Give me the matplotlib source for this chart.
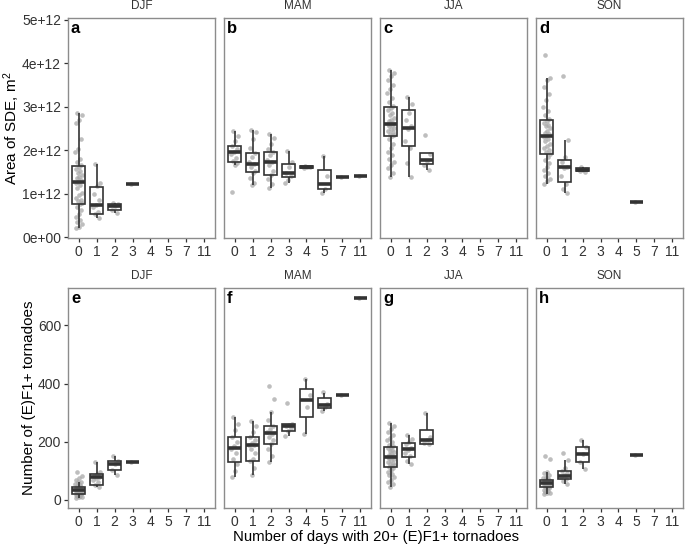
import numpy as np
import matplotlib
matplotlib.use('Agg')
import matplotlib.pyplot as plt

plt.rcParams['font.family'] = ['Liberation Sans', 'DejaVu Sans']
plt.rcParams['mathtext.fontset'] = 'custom'
plt.rcParams['mathtext.rm'] = 'Liberation Sans'
plt.rcParams['mathtext.it'] = 'Liberation Sans'

categories = ['0', '1', '2', '3', '4', '5', '7', '11']
seasons = ['DJF', 'MAM', 'JJA', 'SON']
letters_top = ['a', 'b', 'c', 'd']
letters_bottom = ['e', 'f', 'g', 'h']
area_ticks = [0, 1e12, 2e12, 3e12, 4e12, 5e12]
area_ticklabels = ['0e+00', '1e+12', '2e+12', '3e+12', '4e+12', '5e+12']
count_ticks = [0, 200, 400, 600]
area_unit = 1e12

# ---- box statistics: (whisker low, Q1, median, Q3, whisker high) ----
# Area of SDE (units of 1e12 m^2)
area_box_djf = {'0': (0.20, 0.75, 1.27, 1.64, 2.85), '1': (0.43, 0.54, 0.73, 1.16, 1.67),
                '2': (0.55, 0.63, 0.72, 0.76, 0.79), '3': (1.22, 1.22, 1.22, 1.22, 1.22)}
area_box_mam = {'0': (1.66, 1.73, 1.95, 2.10, 2.45), '1': (1.19, 1.49, 1.67, 1.94, 2.47),
                '2': (1.12, 1.43, 1.73, 1.95, 2.36), '3': (1.25, 1.37, 1.47, 1.69, 1.99),
                '4': (1.58, 1.59, 1.61, 1.63, 1.64), '5': (1.01, 1.10, 1.22, 1.54, 1.87),
                '7': (1.37, 1.37, 1.37, 1.37, 1.37), '11': (1.41, 1.41, 1.41, 1.41, 1.41)}
area_box_jja = {'0': (1.37, 2.33, 2.60, 3.00, 3.85), '1': (1.38, 2.10, 2.51, 2.93, 3.22),
                '2': (1.54, 1.69, 1.78, 1.94, 1.94)}
area_box_son = {'0': (1.22, 1.90, 2.33, 2.70, 3.67), '1': (1.01, 1.27, 1.61, 1.77, 2.23),
                '2': (1.50, 1.52, 1.55, 1.58, 1.60), '5': (0.81, 0.81, 0.81, 0.81, 0.81)}

# Number of (E)F1+ tornadoes
count_box_djf = {'0': (8, 21, 33, 43, 63), '1': (45, 52, 78, 88, 131),
                 '2': (85, 103, 124, 135, 151), '3': (131, 131, 131, 131, 131)}
count_box_mam = {'0': (80, 131, 179, 217, 286), '1': (84, 134, 189, 217, 271),
                 '2': (129, 192, 231, 254, 301), '3': (221, 238, 255, 261, 261),
                 '4': (226, 284, 343, 380, 415), '5': (307, 315, 326, 349, 369),
                 '7': (361, 361, 361, 361, 361), '11': (695, 695, 695, 695, 695)}
count_box_jja = {'0': (45, 112, 148, 183, 265), '1': (122, 146, 174, 194, 223),
                 '2': (192, 192, 206, 240, 300)}
count_box_son = {'0': (20, 45, 59, 68, 97), '1': (55, 71, 83, 100, 137),
                 '2': (105, 129, 157, 181, 206), '5': (153, 153, 153, 153, 153)}

# ---- individual seasons (points) ----
area_pts_djf = {
    '0': [2.85, 2.80, 2.70, 2.62, 2.25, 2.02, 1.95, 1.80, 1.72, 1.66, 1.62, 1.57, 1.52, 1.47, 1.42,
          1.39, 1.35, 1.31, 1.27, 1.24, 1.20, 1.12, 1.02, 0.96, 0.90, 0.86, 0.82, 0.79, 0.75, 0.70,
          0.62, 0.52, 0.46, 0.40, 0.35, 0.30, 0.24, 0.20],
    '1': [1.67, 1.25, 1.18, 1.00, 0.85, 0.73, 0.68, 0.58, 0.52, 0.43],
    '2': [0.79, 0.76, 0.72, 0.63, 0.55],
    '3': [1.22]}
area_pts_mam = {
    '0': [2.45, 2.32, 2.20, 2.10, 2.02, 1.95, 1.90, 1.82, 1.75, 1.70, 1.66, 1.04],
    '1': [2.47, 2.42, 2.25, 2.05, 1.94, 1.85, 1.72, 1.67, 1.60, 1.52, 1.48, 1.36, 1.25, 1.19],
    '2': [2.36, 2.28, 2.15, 2.02, 1.95, 1.88, 1.78, 1.73, 1.65, 1.52, 1.43, 1.33, 1.22, 1.12],
    '3': [1.99, 1.72, 1.60, 1.47, 1.40, 1.32, 1.25],
    '4': [1.64, 1.62, 1.60, 1.58],
    '5': [1.87, 1.40, 1.10, 1.01],
    '7': [1.37],
    '11': [1.41]}
area_pts_jja = {
    '0': [3.85, 3.78, 3.70, 3.62, 3.50, 3.40, 3.32, 3.20, 3.10, 3.02, 2.98, 2.92, 2.85, 2.80, 2.75,
          2.70, 2.66, 2.63, 2.61, 2.60, 2.58, 2.55, 2.52, 2.48, 2.45, 2.42, 2.38, 2.35, 2.32, 2.25,
          2.15, 2.05, 1.95, 1.88, 1.80, 1.72, 1.65, 1.58, 1.48, 1.37],
    '1': [3.22, 3.05, 2.85, 2.70, 2.55, 2.48, 2.20, 2.05, 1.70, 1.38],
    '2': [2.35, 1.90, 1.75, 1.65, 1.54]}
area_pts_son = {
    '0': [4.19, 3.67, 3.62, 3.45, 3.30, 3.15, 3.00, 2.90, 2.80, 2.72, 2.68, 2.62, 2.58, 2.55, 2.50,
          2.45, 2.40, 2.36, 2.33, 2.30, 2.26, 2.20, 2.15, 2.10, 2.05, 2.00, 1.95, 1.90, 1.85, 1.78,
          1.70, 1.62, 1.55, 1.48, 1.40, 1.33, 1.28, 1.22],
    '1': [3.70, 2.23, 1.85, 1.72, 1.62, 1.58, 1.40, 1.22, 1.10, 1.01],
    '2': [1.60, 1.57, 1.55, 1.52, 1.50],
    '5': [0.81]}

count_pts_djf = {
    '0': [97, 82, 75, 68, 63, 60, 56, 52, 48, 45, 43, 42, 40, 38, 37, 36, 35, 34, 33, 33, 32, 31,
          30, 29, 28, 27, 25, 24, 22, 21, 20, 18, 16, 14, 12, 10, 9, 8],
    '1': [131, 95, 88, 82, 78, 75, 70, 60, 52, 45],
    '2': [151, 135, 124, 103, 85],
    '3': [131]}
count_pts_mam = {
    '0': [286, 262, 240, 217, 200, 185, 176, 160, 140, 125, 100, 80],
    '1': [271, 255, 235, 217, 205, 195, 190, 188, 175, 160, 140, 134, 110, 84],
    '2': [392, 346, 301, 275, 254, 245, 235, 228, 215, 205, 192, 175, 150, 129],
    '3': [332, 261, 258, 255, 248, 238, 221],
    '4': [417, 360, 320, 226],
    '5': [370, 330, 320, 307],
    '7': [361],
    '11': [695]}
count_pts_jja = {
    '0': [265, 255, 245, 232, 222, 212, 205, 198, 190, 185, 182, 178, 172, 168, 163, 158, 155, 152,
          150, 148, 146, 143, 140, 136, 132, 128, 124, 120, 116, 112, 108, 102, 96, 90, 84, 78, 70,
          62, 54, 45],
    '1': [223, 210, 200, 192, 180, 170, 160, 150, 135, 122],
    '2': [300, 215, 206, 195, 192]}
count_pts_son = {
    '0': [152, 140, 97, 92, 86, 80, 76, 72, 70, 68, 67, 66, 65, 63, 62, 61, 60, 59, 59, 58, 57, 56,
          55, 54, 52, 50, 48, 46, 45, 43, 40, 37, 34, 31, 28, 25, 22, 20],
    '1': [160, 137, 110, 100, 92, 85, 80, 72, 65, 55],
    '2': [206, 181, 157, 129, 105],
    '5': [153]}

area_boxes = [area_box_djf, area_box_mam, area_box_jja, area_box_son]
area_points = [area_pts_djf, area_pts_mam, area_pts_jja, area_pts_son]
count_boxes = [count_box_djf, count_box_mam, count_box_jja, count_box_son]
count_points = [count_pts_djf, count_pts_mam, count_pts_jja, count_pts_son]

W, H = 685, 547
fig = plt.figure(figsize=(W / 100, H / 100), dpi=100)

col_px = [(68, 215), (224, 371), (380, 527), (536, 683)]
row_px = [(18, 238), (288, 508)]

INK = '#333333'


def draw_panel(ax, box, pts, scale):
    stats, positions = [], []
    for cat, s in box.items():
        lo, q1, med, q3, hi = [v * scale for v in s]
        stats.append(dict(whislo=lo, q1=q1, med=med, q3=q3, whishi=hi, fliers=[], label=cat))
        positions.append(categories.index(cat) + 1)
    ax.bxp(stats, positions=positions, widths=0.75, showcaps=False, showfliers=False,
           patch_artist=True,
           boxprops=dict(facecolor='none', edgecolor=INK, linewidth=1.2),
           medianprops=dict(color=INK, linewidth=2.6, solid_capstyle='butt'),
           whiskerprops=dict(color=INK, linewidth=1.2, solid_capstyle='butt'),
           zorder=3)
    for cat, vals in pts.items():
        x = categories.index(cat) + 1
        n = len(vals)
        offs = ((np.arange(n) * 0.6180339887 + 0.31) % 1.0 - 0.5) * 0.4
        ax.scatter(x + offs, np.asarray(vals) * scale, s=11, color='#a8a8a8', alpha=0.75,
                   linewidths=0, zorder=2)


for r in range(2):
    top, bot = row_px[r]
    for c in range(4):
        left, right = col_px[c]
        ax = fig.add_axes([left / W, 1 - bot / H, (right - left) / W, (bot - top) / H])
        if r == 0:
            draw_panel(ax, area_boxes[c], area_points[c], area_unit)
            ax.set_ylim(-0.023e12, 5.04e12)
            ax.set_yticks(area_ticks)
            ax.set_yticklabels(area_ticklabels)
            letter = letters_top[c]
        else:
            draw_panel(ax, count_boxes[c], count_points[c], 1)
            ax.set_ylim(-28, 729)
            ax.set_yticks(count_ticks)
            ax.set_yticklabels([str(t) for t in count_ticks])
            letter = letters_bottom[c]
        ax.set_xlim(0.4, 8.6)
        ax.set_xticks(range(1, len(categories) + 1))
        ax.set_xticklabels(categories)
        ax.tick_params(axis='both', which='both', direction='out', length=3, width=0.9,
                       color=INK, labelcolor=INK, labelsize=10, pad=2)
        if c > 0:
            ax.tick_params(axis='y', left=False, labelleft=False)
        for sp in ax.spines.values():
            sp.set_color('#8c8c8c')
            sp.set_linewidth(1.0)
        ax.text(0.02, 0.985, letter, transform=ax.transAxes, ha='left', va='top',
                fontsize=12, fontweight='bold', color='black')
        # strip title
        fig.text(((left + right) / 2) / W, 1 - (top - 12) / H, seasons[c], ha='center',
                 va='center', fontsize=8.5, color=INK)

fig.text(12 / W, 1 - 128 / H, 'Area of SDE, m$^2$', rotation=90, ha='center', va='center',
         fontsize=11, color='black')
fig.text(29 / W, 1 - 398 / H, 'Number of (E)F1+ tornadoes', rotation=90, ha='center',
         va='center', fontsize=11, color='black')
fig.text(376 / W, 1 - 537 / H, 'Number of days with 20+ (E)F1+ tornadoes', ha='center',
         va='center', fontsize=10.7, color='black')

fig.savefig('out.png', dpi=100, facecolor='white')
